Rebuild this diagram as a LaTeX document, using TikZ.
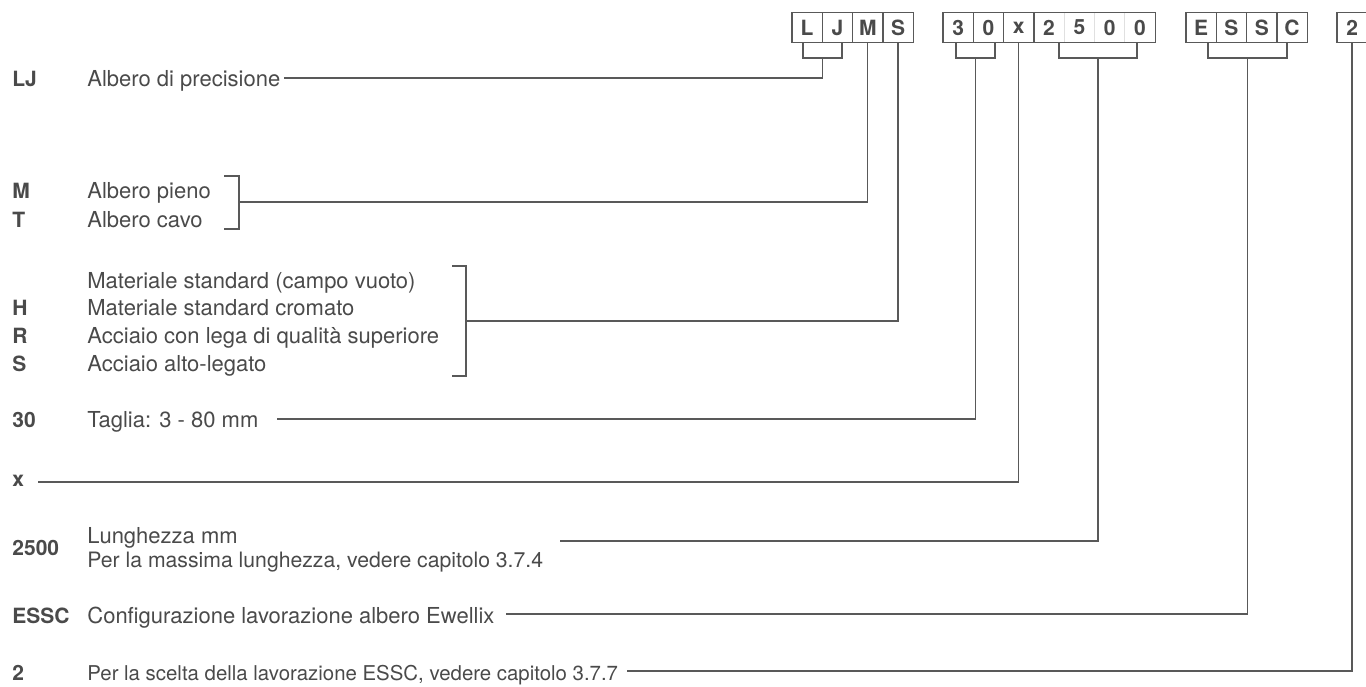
\documentclass[tikz,border=0pt]{standalone}
\usepackage{fontspec}
\setmainfont{TeX Gyre Heros}
\usepackage{tikz}
\usetikzlibrary{positioning}
\definecolor{txtgrey}{HTML}{4A4A4A}
\definecolor{lngrey}{HTML}{595959}

\begin{document}
\begin{tikzpicture}[x=0.5pt,y=-0.5pt,
  cell/.style={draw=lngrey, line width=0.6pt, outer sep=0pt, inner sep=0pt,
    minimum width=15.15pt, minimum height=15.25pt, text=txtgrey,
    font=\fontsize{10.5}{12}\selectfont\bfseries},
  faintcell/.style={cell, draw=black!12},
  code/.style={anchor=base west, inner sep=0pt, text=txtgrey,
    font=\fontsize{10.5}{12}\selectfont\bfseries},
  desc/.style={anchor=base west, inner sep=0pt, text=txtgrey,
    font=\fontsize{11}{13}\selectfont},
  conn/.style={draw=lngrey, line width=0.7pt}]
\useasboundingbox (0,0) rectangle (1366,686);

% code boxes
\node [cell] (cL) at (807.15,27.5) {L};
\node [cell, right=0pt of cL] (cJ) {J};
\node [cell, right=0pt of cJ] (cM) {M};
\node [cell, right=0pt of cM] (cS) {S};

\node [cell] (c3) at (958.15,27.5) {3};
\node [cell, right=0pt of c3] (c0) {0};
\node [cell, right=0pt of c0] (cx) {x};
\node [faintcell, right=0pt of cx] (c2) {2};
\node [faintcell, right=0pt of c2] (c5) {5};
\node [faintcell, right=0pt of c5] (c00) {0};
\node [faintcell, right=0pt of c00] (c000) {0};
\draw [draw=lngrey, line width=0.6pt] (c2.north west) rectangle (c000.south east);

\node [cell] (cE) at (1201.15,27.5) {E};
\node [cell, right=0pt of cE] (cS1) {S};
\node [cell, right=0pt of cS1] (cS2) {S};
\node [cell, right=0pt of cS2] (cC) {C};

\node [cell] (cN) at (1352.15,27.5) {2};

% left column
\node [code] (lj) at (12,86) {LJ};
\node [desc] (lj-d) at (87,86) {Albero di precisione};

\node [code] (m) at (12,198) {M};
\node [desc] (m-d) at (87,198) {Albero pieno};
\node [code] (t) at (12,227) {T};
\node [desc] (t-d) at (87,227) {Albero cavo};

\node [desc] (std-d) at (87,288) {Materiale standard (campo vuoto)};
\node [code] (h) at (12,315.5) {H};
\node [desc] (h-d) at (87,315.5) {Materiale standard cromato};
\node [code] (r) at (12,343) {R};
\node [desc] (r-d) at (87,343) {Acciaio con lega di qualità superiore};
\node [code] (s) at (12,371) {S};
\node [desc] (s-d) at (87,371) {Acciaio alto-legato};

\node [code] (d30) at (12,427) {30};
\node [desc] (d30-d) at (87,427) {Taglia: 3 - 80 mm};

\node [code] (x) at (12,486) {x};

\node [code] (len) at (12,555) {2500};
\node [desc] (len-d1) at (87,543) {Lunghezza mm};
\node [desc, font=\fontsize{10.6}{13}\selectfont] (len-d2) at (87,567) {Per la massima lunghezza, vedere capitolo 3.7.4};

\node [code] (essc) at (12,623) {ESSC};
\node [desc] (essc-d) at (87,623) {Configurazione lavorazione albero Ewellix};

\node [code] (n2) at (12,680) {2};
\node [desc, font=\fontsize{10.2}{13}\selectfont] (n2-d) at (87,680) {Per la scelta della lavorazione ESSC, vedere capitolo 3.7.7};

% connector ends
\coordinate (ljb) at (822.5,58);
\coordinate (ljend) at (284,78);
\coordinate (mtb) at (239,202);
\coordinate (mt1) at (224,176);
\coordinate (mt2) at (224,229);
\coordinate (hrsb) at (466,321);
\coordinate (hrs1) at (452,266);
\coordinate (hrs2) at (452,376);
\coordinate (tb) at (975.5,58);
\coordinate (tagend) at (277,419);
\coordinate (xend) at (38,482);
\coordinate (lenb) at (1098,58);
\coordinate (lenend) at (560,541);
\coordinate (esscb) at (1247.5,58);
\coordinate (esscend) at (506,614);
\coordinate (n2end) at (627,671);

% brackets under the boxes
\draw [conn] ([xshift=-2pt]cL.south) |- (ljb) -| ([xshift=2.2pt]cJ.south);
\draw [conn] ([xshift=-1.1pt]c3.south) |- (tb) -| ([xshift=3.3pt]c0.south);
\draw [conn] ([xshift=5pt]c2.south) |- (lenb) -| ([xshift=-1.5pt]c000.south);
\draw [conn] ([xshift=3.4pt]cE.south) |- (esscb) -| ([xshift=-2.5pt]cC.south);

% brackets at the texts
\draw [conn] (mt1) -| (mtb) |- (mt2);
\draw [conn] (hrs1) -| (hrsb) |- (hrs2);

% connectors
\draw [conn] (ljb) |- (ljend);
\draw [conn] (cM.south) |- (mtb);
\draw [conn] (cS.south) |- (hrsb);
\draw [conn] (tb) |- (tagend);
\draw [conn] (cx.south) |- (xend);
\draw [conn] (lenb) |- (lenend);
\draw [conn] (esscb) |- (esscend);
\draw [conn] (cN.south) |- (n2end);

\end{tikzpicture}
\end{document}
